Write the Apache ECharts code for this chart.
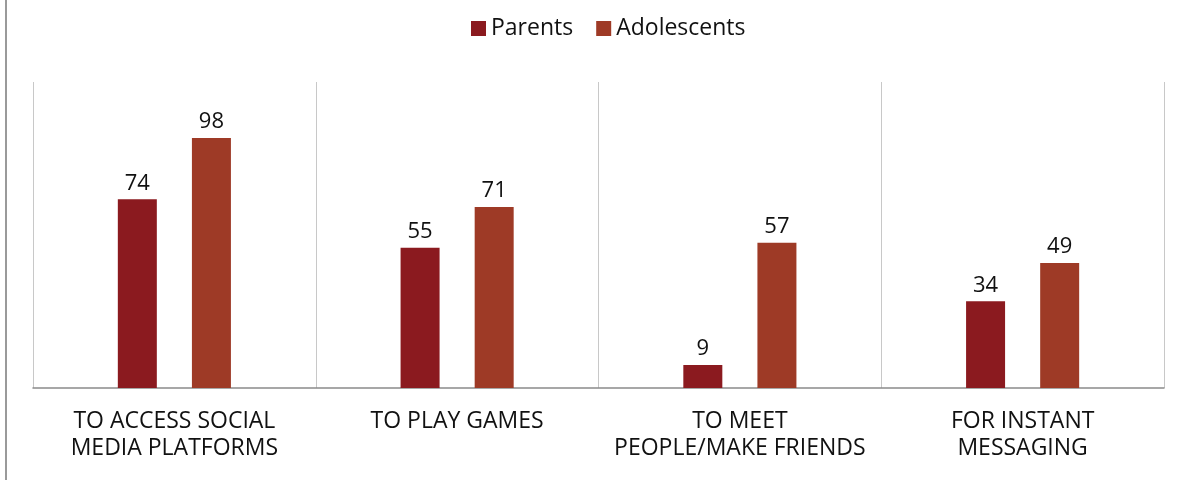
<!DOCTYPE html>
<html>
<head>
<meta charset="utf-8">
<script src="https://cdn.jsdelivr.net/npm/echarts@6/dist/echarts.min.js"></script>
<style>
  html, body { margin: 0; padding: 0; background: #fff; }
  #chart { width: 1184px; height: 480px; }
</style>
</head>
<body>
<div id="chart"></div>
<script>
// Reasons for using online platforms, parents vs adolescents (%)
const categories = [
  'TO ACCESS SOCIAL\nMEDIA PLATFORMS',
  'TO PLAY GAMES',
  'TO MEET\nPEOPLE/MAKE FRIENDS',
  'FOR INSTANT\nMESSAGING'
];
const parents = [74, 55, 9, 34];
const adolescents = [98, 71, 57, 49];

const FONT = '"Open Sans", "Noto Sans", sans-serif';
const chart = echarts.init(document.getElementById('chart'), null, { renderer: 'canvas' });

const labelStyle = {
  show: true,
  position: 'top',
  distance: 5,
  color: '#111',
  fontFamily: FONT,
  fontSize: 22
};

chart.setOption({
  animation: false,
  backgroundColor: '#fff',
  legend: {
    top: 12,
    left: 466,
    itemWidth: 15,
    itemHeight: 15,
    itemGap: 23,
    icon: 'rect',
    textStyle: { fontFamily: FONT, fontSize: 23, color: '#111' },
    data: ['Parents', 'Adolescents']
  },
  grid: { left: 33, right: 20, top: 82, bottom: 92, containLabel: false },
  xAxis: {
    type: 'category',
    data: categories,
    boundaryGap: true,
    axisLine: { show: true, lineStyle: { color: '#8a8a8a', width: 1.5 } },
    axisTick: { show: false },
    splitLine: { show: true, lineStyle: { color: '#c8c8c8', width: 1 } },
    axisLabel: {
      interval: 0,
      margin: 20,
      color: '#111',
      fontFamily: FONT,
      fontSize: 23,
      lineHeight: 27
    }
  },
  yAxis: {
    type: 'value',
    min: 0,
    max: 120,
    show: false,
    splitLine: { show: false }
  },
  series: [
    {
      name: 'Parents',
      type: 'bar',
      data: parents,
      barWidth: 39,
      barGap: '90%',
      itemStyle: { color: '#8b1a1f' },
      label: labelStyle
    },
    {
      name: 'Adolescents',
      type: 'bar',
      data: adolescents,
      barWidth: 39,
      itemStyle: { color: '#9e3a26' },
      label: labelStyle
    }
  ],
  graphic: [
    {
      type: 'line',
      shape: { x1: 6, y1: 0, x2: 6, y2: 480 },
      style: { stroke: '#9a9a9a', lineWidth: 2 },
      silent: true
    },
    {
      type: 'line',
      shape: { x1: 1164.5, y1: 82, x2: 1164.5, y2: 388 },
      style: { stroke: '#c8c8c8', lineWidth: 1 },
      silent: true
    }
  ]
});
</script>
</body>
</html>
